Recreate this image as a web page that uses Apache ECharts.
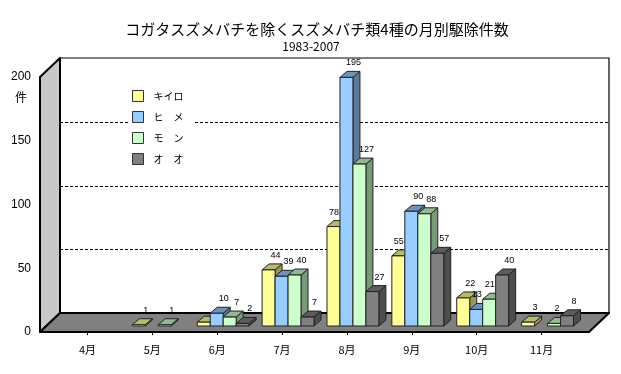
<!DOCTYPE html>
<html><head><meta charset="utf-8">
<script src="https://cdn.jsdelivr.net/npm/echarts@6/dist/echarts.min.js"></script>
<style>html,body{margin:0;padding:0;background:#fff}#c{width:621px;height:374px}</style>
</head><body><div id="c"></div><script>
// ---- data ----
const months = ['4月','5月','6月','7月','8月','9月','10月','11月'];
const seriesNames = ['キイロ','ヒ　メ','モ　ン','オ　オ'];
const kiiro = [0, 1, 3, 44, 78, 55, 22, 3];
const hime  = [0, 0, 10, 39, 195, 90, 13, 0];
const mon   = [0, 1, 7, 40, 127, 88, 21, 2];
const oo    = [0, 0, 2, 7, 27, 57, 40, 8];
const yTicks = [0, 50, 100, 150, 200];
const hiddenLabels = [[0, 2]]; // [series, category] without a data label
const titleLine1 = 'コガタスズメバチを除くスズメバチ類4種の月別駆除件数';
const titleLine2 = '1983-2007';
const unitLabel = '件';

// ---- styles ----
const colors = ['#FFFF99', '#99CCFF', '#CCFFCC', '#808080'];
const FONT_CJK = '"Noto Sans CJK JP", sans-serif';
const FONT_LAT = '"Liberation Sans", Arial, sans-serif';
const WALL = [20, -19];
const EXT = 15;
const BAR_OFF = [6, -6];
const BAR_D = [7, -6];
const values = [kiiro, hime, mon, oo];

function shade(hex, f) {
  const n = parseInt(hex.slice(1), 16);
  return 'rgb(' + Math.round(((n >> 16) & 255) * f) + ',' + Math.round(((n >> 8) & 255) * f) + ',' + Math.round((n & 255) * f) + ')';
}

function frameRender(params, api) {
  const n = months.length;
  const band = api.size([1, 0])[0];
  const p0 = api.coord([0, yTicks[0]]);
  const pN = api.coord([n - 1, yTicks[0]]);
  const xl = p0[0] - band / 2 - EXT, xr = pN[0] + band / 2 + EXT;
  const yb = p0[1];
  const yt = api.coord([0, yTicks[yTicks.length - 1]])[1];
  const dx = WALL[0], dy = WALL[1];
  const ch = [];
  ch.push({type: 'rect', shape: {x: xl + dx, y: yt + dy, width: xr - xl, height: yb - yt},
    style: {fill: '#fff', stroke: '#000', lineWidth: 1.2}});
  yTicks.forEach(function (v, k) {
    if (k === 0 || k === yTicks.length - 1) return;
    const y = Math.round(api.coord([0, v])[1] + dy) + 0.5;
    ch.push({type: 'line', shape: {x1: xl + dx, y1: y, x2: xr + dx, y2: y},
      style: {stroke: '#000', lineWidth: 1, lineDash: [3, 2]}});
  });
  ch.push({type: 'polygon', shape: {points: [[xl, yt], [xl + dx, yt + dy], [xl + dx, yb + dy], [xl, yb]]},
    style: {fill: '#c8c8c8', stroke: '#000', lineWidth: 2, lineJoin: 'round'}});
  ch.push({type: 'polygon', shape: {points: [[xl, yb], [xr, yb], [xr + dx, yb + dy], [xl + dx, yb + dy]]},
    style: {fill: '#808080', stroke: '#000', lineWidth: 2, lineJoin: 'round'}});
  return {type: 'group', children: ch};
}

function barRender(s) {
  return function (params, api) {
    const i = api.value(0), v = api.value(1);
    if (!v) return null;
    const band = api.size([1, 0])[0];
    const nS = values.length;
    const bw = band * 0.8 / nS;
    const base = api.coord([i, 0]);
    const top = api.coord([i, v]);
    const x0 = base[0] - bw * nS / 2 + s * bw + BAR_OFF[0];
    const y0 = base[1] + BAR_OFF[1];
    const y1 = top[1] + BAR_OFF[1];
    const ddx = BAR_D[0], ddy = BAR_D[1];
    const c = colors[s];
    const ch = [
      {type: 'polygon', shape: {points: [[x0 + bw, y1], [x0 + bw + ddx, y1 + ddy], [x0 + bw + ddx, y0 + ddy], [x0 + bw, y0]]},
        style: {fill: shade(c, 0.6), stroke: '#222', lineWidth: 1}},
      {type: 'polygon', shape: {points: [[x0, y1], [x0 + bw, y1], [x0 + bw + ddx, y1 + ddy], [x0 + ddx, y1 + ddy]]},
        style: {fill: shade(c, 0.72), stroke: '#222', lineWidth: 1}},
      {type: 'rect', shape: {x: x0, y: y1, width: bw, height: y0 - y1},
        style: {fill: c, stroke: '#222', lineWidth: 1}}
    ];
    const hidden = hiddenLabels.some(function (h) { return h[0] === s && h[1] === i; });
    if (!hidden) {
      let lx = x0 + bw / 2 + 7;
      const ly = y1 + ddy - 4;
      const nextV = s + 1 < nS ? values[s + 1][i] : 0;
      if (nextV) {
        const yn = api.coord([i, nextV])[1] + BAR_OFF[1] + ddy;
        if (yn < ly) {
          const halfW = String(v).length * 2.5;
          lx = Math.min(lx, x0 + bw - 1 - halfW);
        }
      }
      ch.push({type: 'text', style: {text: String(v), x: lx, y: ly, align: 'center', verticalAlign: 'bottom',
        textAlign: 'center', textVerticalAlign: 'bottom', fill: '#000', fontSize: 9, fontFamily: FONT_LAT}});
    }
    return {type: 'group', children: ch};
  };
}

const series = [{
  type: 'custom', name: '_frame', coordinateSystem: 'cartesian2d', silent: true,
  data: [[0, 0]], renderItem: frameRender, z: 1
}];
values.forEach(function (arr, s) {
  series.push({
    type: 'custom', name: seriesNames[s], coordinateSystem: 'cartesian2d', z: 2,
    itemStyle: {color: colors[s]},
    encode: {x: 0, y: 1},
    data: arr.map(function (v, i) { return [i, v]; }),
    renderItem: barRender(s)
  });
});

const chart = echarts.init(document.getElementById('c'));
chart.setOption({
  backgroundColor: '#fff',
  animation: false,
  grid: {left: 55, right: 47, top: 77, bottom: 42},
  xAxis: {
    type: 'category', data: months, z: 5,
    axisLine: {show: false},
    axisTick: {show: true, inside: false, length: 3, alignWithLabel: true, lineStyle: {color: '#000', width: 1}},
    axisLabel: {color: '#000', fontSize: 11, fontFamily: FONT_CJK, margin: 12},
    splitLine: {show: false}
  },
  yAxis: {
    type: 'value', min: yTicks[0], max: yTicks[yTicks.length - 1], interval: 50, offset: 15,
    axisLine: {show: false}, axisTick: {show: false}, splitLine: {show: false},
    axisLabel: {color: '#000', fontSize: 12, fontFamily: FONT_LAT, margin: 9}
  },
  legend: {
    data: seriesNames, orient: 'vertical', left: 129, top: 87,
    backgroundColor: '#fff', padding: [3, 10, 3, 3],
    itemWidth: 11, itemHeight: 11, itemGap: 9, icon: 'rect',
    itemStyle: {borderColor: '#333', borderWidth: 1},
    textStyle: {color: '#000', fontSize: 10, fontFamily: FONT_CJK, padding: [0, 0, 0, 5]}
  },
  graphic: [
    {type: 'text', x: 317, y: 29, style: {text: titleLine1, fill: '#000', fontSize: 15, fontFamily: FONT_CJK,
      align: 'center', verticalAlign: 'middle', textAlign: 'center', textVerticalAlign: 'middle'}},
    {type: 'text', x: 311, y: 46, style: {text: titleLine2, fill: '#000', fontSize: 12, fontFamily: FONT_CJK,
      align: 'center', verticalAlign: 'middle', textAlign: 'center', textVerticalAlign: 'middle'}},
    {type: 'text', x: 21, y: 97, style: {text: unitLabel, fill: '#000', fontSize: 12, fontFamily: FONT_CJK,
      align: 'center', verticalAlign: 'middle', textAlign: 'center', textVerticalAlign: 'middle'}}
  ],
  series: series
});
</script></body></html>
